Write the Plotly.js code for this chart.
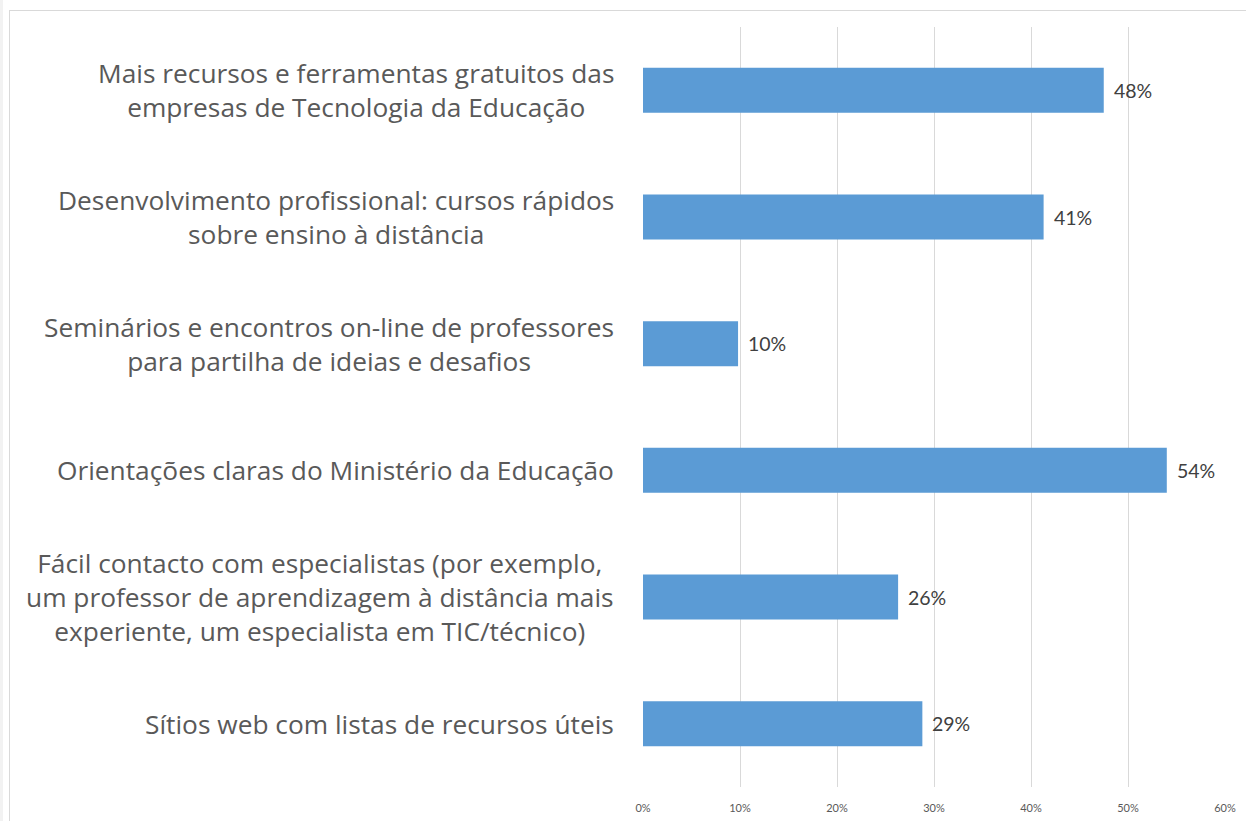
<!DOCTYPE html>
<html>
<head>
<meta charset="utf-8">
<script src="https://cdn.plot.ly/plotly-3.0.1.min.js"></script>
<style>
html,body{margin:0;padding:0;background:#fff;width:1246px;height:821px;overflow:hidden;}
#edge{position:absolute;left:0;top:0;width:3px;height:821px;background:#f2f2f2;}
#box{position:absolute;left:9px;top:10px;width:1237px;height:811px;border-left:1px solid #d9d9d9;border-top:1px solid #d9d9d9;box-sizing:border-box;}
#chart{width:1236px;height:810px;}
</style>
</head>
<body>
<div id="edge"></div>
<div id="box"><div id="chart"></div></div>
<script>
const categories = [
  "Mais recursos e ferramentas gratuitos das<br>empresas de Tecnologia da Educação",
  "Desenvolvimento profissional: cursos rápidos<br>sobre ensino à distância",
  "Seminários e encontros on-line de professores<br>para partilha de ideias e desafios",
  "Orientações claras do Ministério da Educação",
  "Fácil contacto com especialistas (por exemplo,<br>um professor de aprendizagem à distância mais<br>experiente, um especialista em TIC/técnico)",
  "Sítios web com listas de recursos úteis"
];
const values = [47.5, 41.3, 9.8, 54.0, 26.3, 28.8];
const valueLabels = ["48%", "41%", "10%", "54%", "26%", "29%"];
const tickValues = [0, 10, 20, 30, 40, 50, 60];
const tickLabels = ["0%", "10%", "20%", "30%", "40%", "50%", "60%"];

const ids = categories.map((c, i) => "c" + i);

const trace = {
  type: "bar",
  orientation: "h",
  x: values,
  y: ids,
  marker: {color: "#5B9BD5", line: {color: "#5B9BD5", width: 0}},
  hoverinfo: "skip"
};

const annotations = [];
categories.forEach((c, i) => {
  annotations.push({
    xref: "paper", yref: "y", x: 0, y: ids[i],
    xanchor: "right", yanchor: "middle", xshift: -27,
    align: "center", showarrow: false, text: c,
    font: {family: "'Open Sans', sans-serif", size: 26.3, color: "#595959"}
  });
  annotations.push({
    xref: "x", yref: "y", x: values[i], y: ids[i],
    xanchor: "left", yanchor: "middle", xshift: 8,
    showarrow: false, text: valueLabels[i],
    font: {family: "Lato, 'Open Sans', sans-serif", size: 19.5, color: "#404040"}
  });
});

const layout = {
  width: 1236, height: 810,
  margin: {l: 633, r: 21, t: 16, b: 34, pad: 0},
  paper_bgcolor: "#ffffff", plot_bgcolor: "#ffffff",
  bargap: 0.645,
  showlegend: false,
  xaxis: {
    range: [0, 60], tickvals: tickValues, ticktext: tickLabels,
    showgrid: true, gridcolor: "#d9d9d9", gridwidth: 1,
    zeroline: false, showline: false,
    ticks: "outside", ticklen: 0, ticklabelstandoff: 11,
    tickfont: {family: "Lato, 'Open Sans', sans-serif", size: 11, color: "#595959"},
    fixedrange: true
  },
  yaxis: {
    type: "category", categoryorder: "array", categoryarray: ids.slice().reverse(),
    showticklabels: false, showgrid: false, zeroline: false, showline: false,
    ticks: "", fixedrange: true
  },
  annotations: annotations
};

Plotly.newPlot("chart", [trace], layout, {displayModeBar: false, staticPlot: true});
</script>
</body>
</html>
